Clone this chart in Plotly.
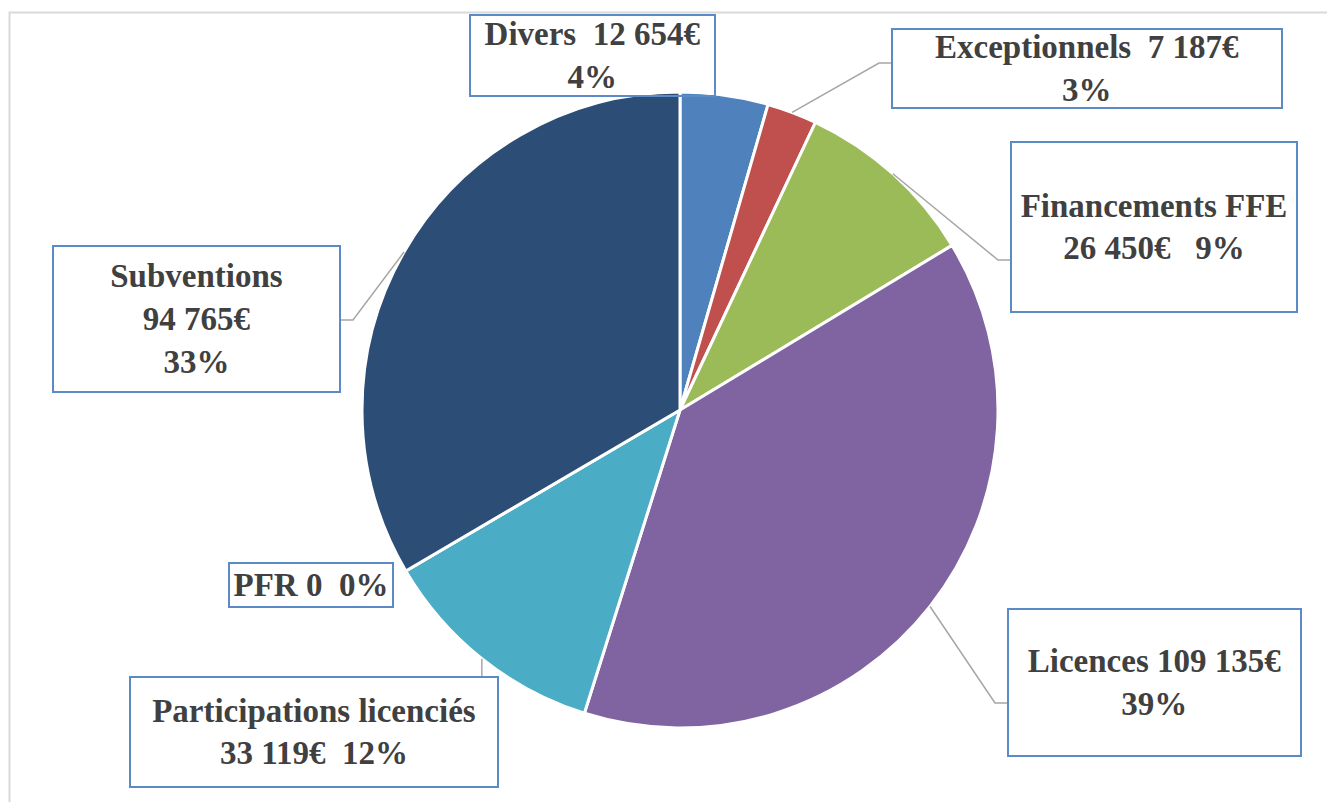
import math
import plotly.graph_objects as go

# ---- data ----
categories = ["Divers", "Exceptionnels", "Financements FFE", "Licences",
              "Participations licenciés", "PFR", "Subventions"]
values = [12654, 7187, 26450, 109135, 33119, 0, 94765]
colors = ["#4F81BD", "#C0504D", "#9BBB59", "#8064A2", "#4BACC6", "#F79646", "#2C4D75"]

# label layouts (text templates per category)
label_templates = {
    "Divers": "{n}\u00a0\u00a0{v}€<br>{p}%",
    "Exceptionnels": "{n}\u00a0\u00a0{v}€<br>{p}%",
    "Financements FFE": "{n}<br>{v}€\u00a0\u00a0\u00a0{p}%",
    "Licences": "{n} {v}€<br>{p}%",
    "Participations licenciés": "{n}<br>{v}€\u00a0\u00a0{p}%",
    "PFR": "{n} {v}\u00a0\u00a0{p}%",
    "Subventions": "{n}<br>{v}€<br>{p}%",
}
# label boxes in pixels: left, top, right, bottom
label_boxes = {
    "Divers": (469, 14, 716, 97),
    "Exceptionnels": (891, 28, 1283, 109),
    "Financements FFE": (1010, 141, 1298, 313),
    "Licences": (1007, 608, 1302, 757),
    "Participations licenciés": (129, 676, 499, 788),
    "PFR": (228, 562, 394, 608),
    "Subventions": (52, 245, 341, 393),
}
# leader-line elbows (pixels): list of points after the pie point
leader_paths = {
    "Exceptionnels": [(879, 63), (891, 63)],
    "Financements FFE": [(998, 260), (1010, 260)],
    "Licences": [(995, 703), (1007, 703)],
    "Participations licenciés": [(None, 676)],
    "Subventions": [(353, 320), (341, 320)],
}

W, H = 1335, 802
OX, OY = 8, 8          # page offset of the plot inside the browser window
CX, CY, R = 680, 410, 318


def px(x):
    return (x - OX) / W


def py(y):
    return 1 - (y - OY) / H


total = sum(values)

fig = go.Figure()
fig.add_trace(go.Pie(
    labels=categories, values=values, sort=False, direction="clockwise",
    rotation=0, marker=dict(colors=colors, line=dict(color="white", width=3)),
    textinfo="none", hoverinfo="label+value+percent", showlegend=False,
    domain=dict(x=[px(CX - R), px(CX + R)], y=[py(CY + R), py(CY - R)]),
))

shapes = []
# chart frame
shapes.append(dict(type="rect", xref="paper", yref="paper",
                   x0=px(9.5), y0=py(1000), x1=px(1500), y1=py(12.5),
                   line=dict(color="#D9D9D9", width=2), fillcolor="rgba(0,0,0,0)"))

annotations = []
cum = 0
for name, v in zip(categories, values):
    mid = 2 * math.pi * (cum + v / 2) / total
    cum += v
    pxl = CX + R * math.sin(mid)
    pyl = CY - R * math.cos(mid)
    pct = round(v / total * 100)
    vtxt = f"{v:,}".replace(",", " ")
    text = label_templates[name].format(n=name, v=vtxt, p=pct)
    l, t, r, b = label_boxes[name]
    annotations.append(dict(
        text=text, xref="paper", yref="paper", x=px(l), y=py(t),
        xanchor="left", yanchor="top", showarrow=False,
        width=r - l - 4, height=b - t - 4, borderpad=0, borderwidth=2,
        bordercolor="#5B8AC6", bgcolor="rgba(0,0,0,0)", align="center", valign="middle",
        font=dict(family="Liberation Serif", size=33, color="#404040", weight="bold"),
    ))
    if name in leader_paths:
        pts = [(pxl, pyl)]
        for (x, y) in leader_paths[name]:
            pts.append((pxl if x is None else x, y))
        path = "M " + " L ".join(f"{px(x)} {py(y)}" for x, y in pts)
        shapes.append(dict(type="path", xref="paper", yref="paper", path=path,
                           line=dict(color="#A6A6A6", width=1.5)))

fig.update_layout(
    width=W, height=H, margin=dict(l=0, r=0, t=0, b=0),
    paper_bgcolor="white", plot_bgcolor="white",
    shapes=shapes, annotations=annotations,
)
fig.write_html("out.html")
